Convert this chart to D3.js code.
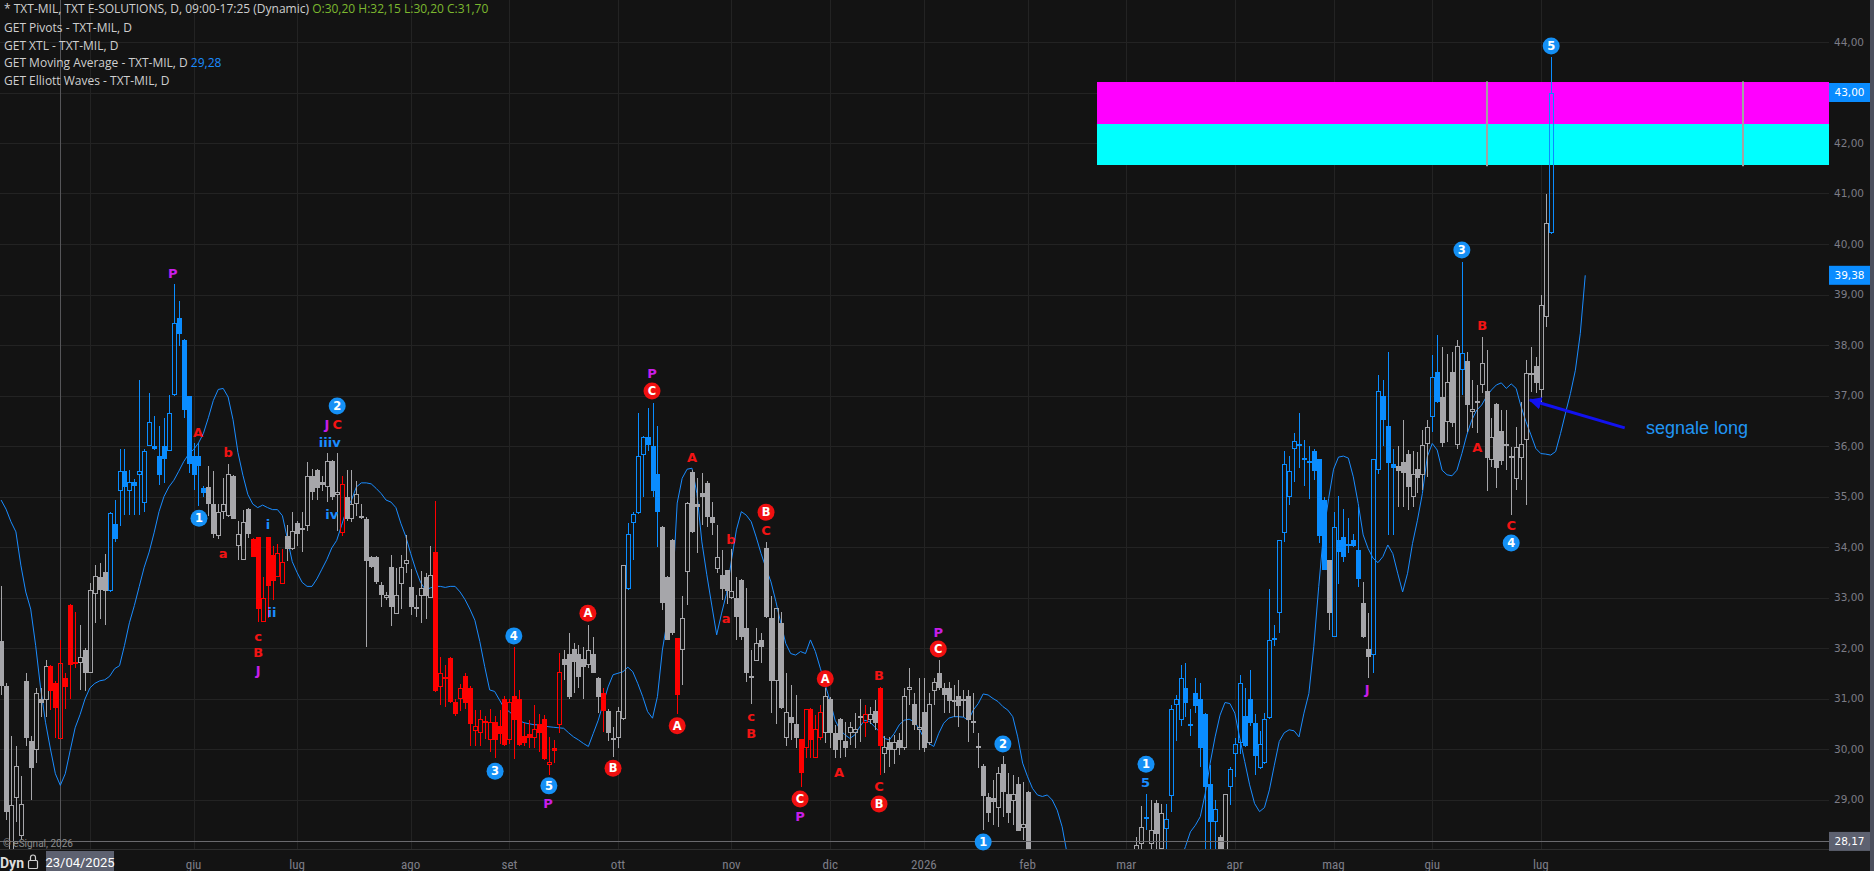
<!DOCTYPE html>
<html><head><meta charset="utf-8">
<script src="https://cdn.jsdelivr.net/npm/d3@7/dist/d3.min.js"></script>
<style>html,body{margin:0;padding:0;background:#131313;overflow:hidden}svg{display:block}</style>
</head><body>
<svg id="chart" width="1874" height="871"></svg>
<script>
// ---------------- DATA (bar 0 = 12 sessions before 23/04/2025) ----------------
const opens = [32.13,31.25,28.00,29.02,28.28,31.35,30.16,29.98,31.00,30.97,31.64,31.31,
30.20,31.40,32.85,31.72,31.70,31.96,31.51,33.07,33.41,33.50,
33.12,34.46,35.10,35.50,35.10,35.29,35.42,34.87,36.00,36.00,
35.80,36.00,35.91,37.01,38.53,38.09,36.99,35.80,35.80,35.16,
35.19,34.85,34.21,34.70,34.61,35.40,34.02,33.75,34.75,34.15,
34.19,32.52,34.19,33.85,33.41,33.26,34.21,33.96,34.47,34.38,
34.41,35.40,35.53,35.29,35.19,35.70,35.02,34.28,34.99,34.56,
34.85,34.62,34.55,33.81,33.81,33.25,33.00,33.60,32.67,33.26,
33.66,33.21,32.81,33.03,33.41,32.99,33.90,31.23,31.42,31.80,
30.93,30.99,31.44,31.21,30.36,30.31,30.56,30.18,30.54,30.46,
31.00,30.18,31.04,31.00,30.26,30.30,30.21,30.50,30.59,29.68,
30.01,30.48,31.79,31.89,31.99,31.89,31.79,31.66,31.89,31.40,
31.10,30.76,30.21,30.21,30.60,33.16,34.47,34.67,35.82,36.18,
36.00,35.45,34.40,33.41,34.14,32.19,31.97,33.51,35.49,34.86,
35.07,35.27,34.59,33.56,33.45,33.54,32.99,33.00,33.35,32.39,
31.40,31.75,32.16,33.99,32.59,31.35,32.49,30.21,30.64,30.49,
30.19,30.01,30.80,29.82,30.21,30.31,31.00,30.31,30.59,30.16,
30.31,30.31,30.61,30.51,30.57,30.76,31.20,29.91,30.14,29.98,
30.18,30.01,31.17,30.90,30.38,30.74,30.11,31.14,31.50,31.20,
31.20,30.98,31.04,31.00,31.04,30.51,30.01,29.66,29.04,29.02,
28.83,29.70,29.11,28.98,29.31,28.43,29.14,27.60,27.25,26.95,
27.10,26.85,26.45,26.70,26.55,26.20,26.45,26.80,26.60,26.35,
26.70,27.05,26.95,27.20,27.45,27.30,27.55,27.40,27.90,28.12,
28.66,28.12,28.94,28.01,28.41,29.07,30.87,30.57,31.20,30.50,
31.10,31.00,30.69,29.31,28.56,28.25,27.90,29.25,29.90,30.11,
30.65,31.00,30.51,29.62,29.72,30.61,32.16,32.70,34.27,35.00,
35.95,36.04,35.77,35.71,35.91,35.74,34.94,33.74,32.21,34.14,
34.19,34.06,34.14,33.94,32.90,31.99,31.86,35.53,36.99,36.40,
35.64,35.60,35.69,35.84,35.00,35.54,35.43,36.04,36.58,37.47,
36.98,36.48,37.47,36.02,37.51,37.69,36.68,36.89,37.21,37.08,
35.72,36.84,36.30,36.03,35.76,35.34,35.76,36.12,37.44,37.58,
37.11,38.55,40.21];
const highs = [33.22,31.30,30.26,30.05,29.46,31.50,30.26,31.20,31.20,31.76,31.66,31.35,
32.15,31.50,32.87,32.72,32.45,32.00,33.28,33.64,33.68,33.87,
34.70,34.93,35.95,35.95,35.53,35.35,37.30,35.95,37.05,36.60,
36.40,36.55,37.01,39.20,38.87,38.12,37.00,36.06,36.06,35.20,
35.61,35.50,34.85,35.37,35.65,35.42,34.51,34.74,34.77,34.17,
34.20,33.40,34.20,34.02,34.06,33.96,34.44,34.70,34.51,34.70,
35.68,35.55,35.55,35.40,35.87,35.72,35.87,35.40,35.53,35.53,
35.31,34.85,34.60,33.83,33.83,33.30,33.10,33.85,33.58,33.85,
34.23,33.56,33.05,33.52,33.49,34.02,34.91,31.82,31.67,31.82,
31.00,31.29,31.50,31.25,30.77,30.77,30.65,30.80,30.66,30.77,
31.05,31.00,32.01,31.17,30.51,30.57,30.87,30.70,30.67,30.24,
30.18,31.90,31.96,32.30,32.09,32.06,32.02,32.45,32.22,31.42,
31.20,30.80,30.44,30.84,33.64,34.47,34.70,36.65,36.20,36.75,
36.85,36.40,34.42,33.43,34.16,32.20,33.02,34.90,35.52,35.36,
35.46,35.30,34.90,34.43,33.95,33.55,33.97,33.41,33.37,33.18,
31.96,32.39,32.29,34.10,33.02,32.80,32.72,31.50,31.27,31.07,
30.20,30.80,30.82,30.67,30.87,31.20,31.02,30.47,30.62,30.54,
30.54,30.71,31.00,30.87,30.84,30.97,31.22,30.26,30.24,30.28,
30.31,31.20,31.60,31.10,31.40,31.40,31.10,31.40,31.76,31.30,
31.33,31.27,31.37,31.17,31.17,31.10,30.31,29.70,29.12,29.38,
29.65,29.86,29.52,29.48,29.45,29.35,29.16,27.85,27.55,27.30,
27.40,27.10,26.90,27.05,26.80,26.60,26.95,27.10,26.90,26.80,
27.20,27.40,27.30,27.60,27.80,27.70,27.90,27.85,28.26,28.87,
29.11,29.00,29.00,28.92,28.92,30.87,31.07,31.66,31.70,30.80,
31.40,31.30,30.71,29.68,29.00,28.30,29.11,29.65,30.21,31.47,
31.20,31.56,30.70,30.35,30.72,33.16,32.46,34.14,35.91,35.80,
36.26,36.65,36.11,36.00,35.95,35.75,35.00,33.75,34.70,35.01,
34.75,34.57,34.26,34.80,33.31,32.69,35.75,37.40,37.31,37.87,
35.95,36.00,36.51,35.92,35.91,35.89,36.32,36.51,37.80,38.20,
37.97,37.83,37.87,38.10,39.65,37.87,37.30,37.20,38.16,37.90,
36.55,36.85,36.71,36.71,35.99,36.38,36.88,37.70,37.97,37.77,
38.99,40.99,43.71];
const lows = [31.06,28.60,27.90,28.56,28.20,30.05,29.00,29.72,30.63,30.64,30.77,30.21,
30.20,30.80,31.00,31.60,31.17,31.15,31.50,32.50,32.58,32.46,
33.10,34.09,34.41,34.64,34.64,34.64,34.64,34.70,36.00,35.93,
35.23,35.27,35.90,37.00,37.99,36.56,35.46,35.12,34.81,35.00,
34.62,34.18,34.15,34.55,34.60,34.55,33.75,33.75,34.17,33.80,
32.52,32.52,32.60,32.96,33.40,33.26,33.72,33.95,34.02,33.90,
34.32,34.93,34.94,35.10,34.89,34.93,34.32,34.21,34.51,34.50,
34.62,34.55,32.01,33.58,33.26,32.81,32.95,32.43,32.67,32.77,
33.49,32.66,32.62,32.50,32.58,32.99,31.12,30.87,30.84,30.91,
30.65,30.76,30.80,30.05,30.05,30.05,30.20,29.95,29.82,30.10,
30.05,30.10,29.81,30.05,30.05,30.01,30.01,29.95,29.78,29.49,
29.72,30.31,31.36,31.00,31.10,31.20,31.00,31.60,31.50,30.71,
30.34,30.15,29.85,30.01,30.58,33.14,33.74,34.66,35.00,35.90,
35.00,34.00,32.75,32.15,32.25,30.70,31.27,32.85,34.28,33.89,
34.43,34.40,34.24,33.48,32.95,32.88,32.98,32.16,32.16,31.33,
30.90,31.74,31.70,32.60,30.71,30.50,30.80,30.05,30.18,30.01,
29.25,29.82,29.82,29.82,30.18,30.11,30.01,29.82,29.82,29.85,
30.08,30.01,30.14,30.24,30.50,30.38,29.48,29.52,29.65,29.71,
29.88,29.98,30.87,30.38,29.98,29.95,30.07,30.87,31.17,30.71,
30.71,30.64,30.44,30.64,30.14,30.31,29.62,28.40,28.56,28.49,
28.46,28.66,28.53,28.49,28.38,28.20,27.40,27.10,26.80,26.60,
26.70,26.30,26.20,26.40,26.00,25.90,26.30,26.40,26.20,26.10,
26.50,26.80,26.70,26.95,27.10,27.05,27.20,27.15,27.60,27.90,
28.40,27.95,27.95,27.90,28.00,28.76,30.15,30.45,30.64,30.26,
30.71,29.65,28.00,27.90,27.90,27.70,27.80,28.89,29.45,29.90,
30.03,30.45,29.49,29.60,29.70,30.60,32.03,32.29,34.09,34.83,
35.29,35.56,35.20,34.95,35.33,34.08,33.54,32.36,32.21,33.27,
33.71,33.88,34.00,33.20,32.20,31.40,31.50,35.45,36.00,34.24,
34.24,34.80,34.80,34.73,34.80,35.06,35.13,35.39,36.28,36.85,
35.99,36.08,36.38,35.95,37.01,36.28,36.35,36.25,37.04,35.10,
35.59,35.16,35.62,35.52,34.63,35.13,35.33,34.83,37.07,37.04,
36.81,38.35,40.20];
const closes = [31.25,28.75,28.90,29.66,28.91,30.21,29.62,31.10,30.92,31.64,31.15,30.82,
31.70,31.22,31.66,31.68,31.83,31.51,33.15,33.43,33.15,33.12,
34.68,34.16,35.50,35.19,35.29,35.20,35.50,35.90,36.48,35.95,
35.42,35.75,36.65,38.43,38.22,36.71,35.65,35.42,35.61,35.06,
34.85,34.26,34.69,34.85,35.44,34.56,34.26,34.49,34.26,33.81,
32.77,32.99,33.22,33.32,33.89,33.70,33.96,34.32,34.26,34.33,
35.40,35.08,35.16,35.23,35.70,35.00,35.08,35.25,34.56,34.85,
35.04,34.58,33.72,33.60,33.31,33.05,33.05,32.81,33.05,33.60,
33.74,32.81,32.77,33.19,33.03,33.45,31.15,31.50,31.38,30.93,
30.70,31.20,30.91,30.50,30.45,30.59,30.51,30.54,30.18,30.30,
30.08,30.94,30.57,30.08,30.11,30.21,30.39,30.31,29.81,29.75,
29.97,31.53,31.66,31.02,31.73,31.43,31.63,31.96,31.51,31.02,
30.76,30.31,30.18,30.76,33.64,34.26,34.66,35.80,36.18,36.02,
35.10,34.70,32.90,32.16,32.29,31.07,32.59,34.88,34.30,34.80,
34.99,34.60,34.47,33.80,33.16,33.12,33.13,32.61,32.21,31.51,
31.45,32.09,32.01,32.61,31.35,32.79,30.82,30.74,30.51,30.21,
29.52,30.80,30.18,30.39,30.74,31.04,30.31,29.98,30.18,30.01,
30.44,30.39,30.65,30.69,30.69,30.51,30.06,30.04,29.98,30.14,
30.01,31.04,31.23,30.48,30.44,30.01,30.90,31.33,31.20,31.07,
30.95,30.94,30.85,30.96,30.57,30.56,30.06,29.06,28.73,28.96,
29.53,29.15,28.73,29.11,28.38,28.52,27.60,27.25,26.95,27.10,
26.85,26.45,26.70,26.55,26.20,26.45,26.80,26.60,26.35,26.70,
27.05,26.95,27.20,27.45,27.30,27.55,27.40,27.70,28.10,28.45,
28.63,28.40,28.32,28.74,28.61,30.80,31.00,31.40,30.92,30.46,
30.85,30.01,29.25,28.56,28.81,28.00,29.11,29.60,30.10,31.30,
30.06,30.51,29.86,30.10,30.59,32.16,32.20,34.14,35.64,35.51,
36.10,36.00,35.72,35.68,35.51,34.21,33.54,32.70,34.39,33.91,
33.81,34.02,34.01,33.36,32.21,31.82,35.74,37.08,36.51,35.66,
35.56,35.51,35.46,35.19,35.44,35.36,36.02,36.38,37.37,36.88,
36.05,37.27,36.45,37.99,37.84,36.81,36.74,36.86,37.64,35.76,
36.18,35.56,35.71,36.00,35.80,35.99,36.03,37.44,37.41,37.25,
38.79,40.42,43.00];
// bar colouring state (g = neutral, b = bullish, r = bearish) as runs
const trendRuns = [["g",10],["r",6],["g",6],["b",20],["g",9],["r",7],["g",11],["r",1],["g",18],["r",26],
["g",8],["r",1],["g",4],["b",7],["g",3],["r",1],["g",24],["r",5],["g",8],["r",1],["g",2],["r",1],
["g",53],["b",1],["g",3],["b",11],["g",2],["b",20],["g",1],["b",6],["g",2],["b",5],["g",7],["b",2],
["g",4],["b",1],["g",17],["b",1]];
// displaced moving average, one value per bar (extends 7 bars past the last candle)
const maValues = [34.93,34.75,34.50,34.30,33.64,33.11,32.77,32.05,31.21,30.53,30.00,29.51,
29.28,29.51,29.97,30.42,30.68,30.99,31.21,31.30,31.35,31.37,
31.44,31.59,31.65,32.05,32.50,32.84,33.22,33.60,33.90,34.28,
34.70,35.00,35.19,35.32,35.50,35.69,35.84,35.93,36.06,36.25,
36.56,36.90,37.12,37.14,36.97,36.52,35.87,35.42,35.04,34.85,
34.78,34.83,34.78,34.74,34.74,34.62,34.17,33.71,33.49,33.30,
33.22,33.22,33.37,33.56,33.75,33.98,34.13,34.43,34.74,34.93,
35.19,35.27,35.27,35.25,35.16,35.06,34.93,34.89,34.78,34.47,
34.21,33.87,33.56,33.30,33.15,33.19,33.22,33.22,33.20,33.22,
33.22,33.11,32.96,32.77,32.55,32.13,31.63,31.17,31.14,30.97,
30.80,30.74,30.64,30.56,30.52,30.50,30.48,30.48,30.46,30.44,
30.43,30.42,30.41,30.32,30.24,30.18,30.11,30.05,30.31,30.57,
30.90,31.23,31.47,31.50,31.53,31.62,31.53,31.30,31.04,30.74,
30.61,31.04,31.96,32.55,33.08,34.87,35.36,35.54,35.56,35.06,
34.10,33.45,32.85,32.26,32.69,33.08,33.74,34.34,34.70,34.63,
34.50,34.20,33.87,33.58,33.31,32.92,32.49,32.09,31.89,31.86,
31.93,31.89,32.16,31.93,31.60,31.27,30.94,30.57,30.38,30.28,
30.21,30.28,30.44,30.57,30.54,30.44,30.34,30.21,30.18,30.31,
30.48,30.57,30.59,30.54,30.41,30.21,30.11,30.05,30.31,30.51,
30.61,30.64,30.64,30.63,30.57,30.77,30.90,31.09,31.07,31.00,
30.94,30.84,30.77,30.64,30.24,29.72,29.45,29.22,29.09,29.06,
29.09,28.99,28.79,28.46,27.93,27.60,27.30,27.00,26.80,26.60,
26.50,26.40,26.30,26.20,26.20,26.10,26.10,26.10,26.20,26.30,
26.40,26.50,26.60,26.80,27.00,27.30,27.55,27.80,28.07,28.36,
28.49,28.66,29.12,29.72,30.24,30.67,30.92,30.90,30.71,30.21,
29.75,29.29,28.92,28.76,28.84,29.19,29.68,30.15,30.32,30.38,
30.36,30.24,30.71,31.10,32.03,33.22,34.30,34.96,35.54,35.78,
35.80,35.76,35.39,34.86,34.24,33.97,33.78,33.69,33.81,34.04,
33.87,33.48,33.11,33.48,34.07,34.53,35.06,35.79,36.05,35.92,
35.52,35.43,35.41,35.52,35.85,36.22,36.51,36.71,36.81,36.98,
37.11,37.21,37.25,37.14,37.23,37.14,36.78,36.48,36.22,35.95,
35.85,35.84,35.82,35.89,36.25,36.65,37.04,37.50,38.23,39.38];

const priceTicks = [29,30,31,32,33,34,35,36,37,38,39,40,41,42,43,44];
const monthLabels = ["", "giu","lug","ago","set","ott","nov","dic","2026","feb","mar","apr","mag","giu","lug"];
const monthBars   = [18, 39, 60, 83, 103, 125, 148, 168, 187, 208, 228, 250, 270, 290, 312];

// GET Pivots zones
const pivotZones = [{from:222, top:43.20, bottom:42.38, color:"#ff00ff"},
                    {from:222, top:42.38, bottom:41.56, color:"#00ffff"}];
const pivotMarkerBars = [301, 353];

// Elliott wave labels: bar, price, text, kind (cb/cr = circle blue/red, tr/tm/tb = text red/magenta/blue)
const waveLabels = [
 {b:34.8,p:39.41,t:"P",k:"tm"},{b:39.9,p:36.28,t:"A",k:"tr"},{b:46.0,p:35.88,t:"b",k:"tr"},
 {b:40.1,p:34.57,t:"1",k:"cb"},{b:45.0,p:33.88,t:"a",k:"tr"},{b:54.1,p:34.44,t:"i",k:"tb"},
 {b:54.9,p:32.71,t:"ii",k:"tb"},{b:52.1,p:32.24,t:"c",k:"tr"},{b:52.1,p:31.91,t:"B",k:"tr"},
 {b:52.1,p:31.56,t:"J",k:"tm"},{b:68.1,p:36.79,t:"2",k:"cb"},{b:66.0,p:36.43,t:"J",k:"tm"},
 {b:68.1,p:36.43,t:"C",k:"tr"},{b:66.6,p:36.08,t:"iiiv",k:"tb"},{b:67.0,p:34.65,t:"iv",k:"tb"},
 {b:131.9,p:37.43,t:"P",k:"tm"},{b:131.9,p:37.09,t:"C",k:"cr"},{b:140.0,p:35.78,t:"A",k:"tr"},
 {b:155.0,p:34.69,t:"B",k:"cr"},{b:155.0,p:34.34,t:"C",k:"tr"},{b:147.9,p:34.16,t:"b",k:"tr"},
 {b:146.9,p:32.59,t:"a",k:"tr"},{b:118.9,p:32.69,t:"A",k:"cr"},{b:103.9,p:32.24,t:"4",k:"cb"},
 {b:100.1,p:29.56,t:"3",k:"cb"},{b:111.0,p:29.27,t:"5",k:"cb"},{b:110.8,p:28.93,t:"P",k:"tm"},
 {b:124.0,p:29.62,t:"B",k:"cr"},{b:137.0,p:30.46,t:"A",k:"cr"},{b:152.0,p:30.65,t:"c",k:"tr"},
 {b:152.0,p:30.32,t:"B",k:"tr"},{b:167.0,p:31.39,t:"A",k:"cr"},{b:177.9,p:31.45,t:"B",k:"tr"},
 {b:189.9,p:32.32,t:"P",k:"tm"},{b:189.9,p:31.98,t:"C",k:"cr"},{b:161.9,p:29.01,t:"C",k:"cr"},
 {b:161.9,p:28.67,t:"P",k:"tm"},{b:169.8,p:29.54,t:"A",k:"tr"},{b:177.9,p:29.27,t:"C",k:"tr"},
 {b:177.9,p:28.91,t:"B",k:"cr"},{b:203.0,p:30.10,t:"2",k:"cb"},{b:199.0,p:28.16,t:"1",k:"cb"},
 {b:232.0,p:29.70,t:"1",k:"cb"},{b:231.9,p:29.35,t:"5",k:"tb"},{b:276.8,p:31.19,t:"J",k:"tm"},
 {b:296.0,p:39.88,t:"3",k:"cb"},{b:300.1,p:38.38,t:"B",k:"tr"},{b:299.1,p:35.98,t:"A",k:"tr"},
 {b:306.0,p:34.42,t:"C",k:"tr"},{b:306.0,p:34.08,t:"4",k:"cb"},{b:314.1,p:43.92,t:"5",k:"cb"}
];
const signalArrow = {fromBar:329.0, fromPrice:36.36, toBar:309.8, toPrice:36.91, text:"segnale long", textBar:333.3};
const crosshairBar = 12, crosshairPrice = 28.17;

// ---------------- RENDER ----------------
const W = 1874, H = 871, plotRight = 1829, plotBottom = 849;
const svg = d3.select("#chart");
const x = d3.scaleLinear().domain([0, 300]).range([1.1, 1.1 + 4.935 * 300]);
const y = d3.scaleLinear().domain([29, 44]).range([799.5, 42]);
const loc = d3.formatLocale({decimal: ",", thousands: ".", grouping: [3], currency: ["", ""]});
const f2 = loc.format(".2f");

const trend = [];
trendRuns.forEach(([c, n]) => { for (let k = 0; k < n; k++) trend.push(c); });
const colorOf = {b: "#0a8cff", r: "#ff0000", g: "#a6a6aa"};

svg.append("rect").attr("width", W).attr("height", H).attr("fill", "#131313");
const defs = svg.append("defs");
defs.append("clipPath").attr("id", "plotclip").append("rect")
  .attr("x", 0).attr("y", 0).attr("width", plotRight).attr("height", plotBottom);
defs.append("marker").attr("id", "ah").attr("viewBox", "0 0 10 10").attr("refX", 9).attr("refY", 5)
  .attr("markerWidth", 4.2).attr("markerHeight", 4.2).attr("orient", "auto")
  .append("path").attr("d", "M0,0 L10,5 L0,10 z").attr("fill", "#1212f0");

// grid
const grid = svg.append("g").attr("shape-rendering", "crispEdges");
grid.selectAll("line.h").data(priceTicks).join("line")
  .attr("x1", 0).attr("x2", plotRight)
  .attr("y1", d => Math.round(y(d)) + 0.5).attr("y2", d => Math.round(y(d)) + 0.5)
  .attr("stroke", "#232323");
grid.selectAll("line.v").data(monthBars).join("line")
  .attr("x1", d => Math.round(x(d)) + 0.5).attr("x2", d => Math.round(x(d)) + 0.5)
  .attr("y1", 0).attr("y2", plotBottom).attr("stroke", "#232323");
grid.append("line").attr("x1", 0).attr("x2", plotRight).attr("y1", plotBottom + 0.5).attr("y2", plotBottom + 0.5)
  .attr("stroke", "#2e2e2e");

const plot = svg.append("g").attr("clip-path", "url(#plotclip)");

// crosshair vertical
plot.append("line").attr("x1", Math.round(x(crosshairBar)) + 0.5).attr("x2", Math.round(x(crosshairBar)) + 0.5)
  .attr("y1", 0).attr("y2", plotBottom).attr("stroke", "#555558").attr("shape-rendering", "crispEdges");

// pivot zones
plot.selectAll("rect.pz").data(pivotZones).join("rect")
  .attr("x", d => x(d.from)).attr("y", d => y(d.top))
  .attr("width", d => plotRight - x(d.from)).attr("height", d => y(d.bottom) - y(d.top))
  .attr("fill", d => d.color).attr("shape-rendering", "crispEdges");
plot.selectAll("rect.pm").data(pivotMarkerBars).join("rect")
  .attr("x", d => Math.round(x(d)) - 1).attr("y", y(pivotZones[0].top) - 1)
  .attr("width", 2).attr("height", y(pivotZones[1].bottom) - y(pivotZones[0].top) + 2)
  .attr("fill", "#a2a2a2");

// moving average
plot.append("path").datum(maValues)
  .attr("d", d3.line().x((d, i) => x(i)).y(d => y(d)))
  .attr("fill", "none").attr("stroke", "#1a8cff").attr("stroke-width", 1);

// candles
const n = Math.min(opens.length, highs.length, lows.length, closes.length);
const bars = d3.range(n).map(i => ({i, o: opens[i], h: highs[i], l: lows[i], c: closes[i], t: trend[i] || "g"}));
const cg = plot.append("g").attr("shape-rendering", "crispEdges");
cg.selectAll("g").data(bars).join("g").each(function (d) {
  const g = d3.select(this);
  const col = colorOf[d.t];
  const cx = Math.round(x(d.i));
  const yt = Math.round(y(Math.max(d.o, d.c)));
  const yb = Math.round(y(Math.min(d.o, d.c)));
  const yh = Math.round(y(d.h)), yl = Math.round(y(d.l));
  if (d.c > d.o) {
    g.append("line").attr("x1", cx + 0.5).attr("x2", cx + 0.5).attr("y1", yh).attr("y2", yt).attr("stroke", col);
    g.append("line").attr("x1", cx + 0.5).attr("x2", cx + 0.5).attr("y1", yb).attr("y2", yl).attr("stroke", col);
    g.append("rect").attr("x", cx - 1.5).attr("y", yt + 0.5).attr("width", 4)
      .attr("height", Math.max(yb - yt - 1, 0.01)).attr("fill", "none").attr("stroke", col);
  } else {
    g.append("line").attr("x1", cx + 0.5).attr("x2", cx + 0.5).attr("y1", yh).attr("y2", yl).attr("stroke", col);
    g.append("rect").attr("x", cx - 2).attr("y", yt).attr("width", 5)
      .attr("height", Math.max(yb - yt, 2)).attr("fill", col);
  }
});

// crosshair horizontal (drawn above candles)
plot.append("line").attr("x1", 0).attr("x2", plotRight)
  .attr("y1", Math.round(y(crosshairPrice)) + 0.5).attr("y2", Math.round(y(crosshairPrice)) + 0.5)
  .attr("stroke", "#6a6a6e").attr("shape-rendering", "crispEdges");

// wave labels
const textCol = {tr: "#f21414", tm: "#c81ee8", tb: "#1a8cff"};
const wl = svg.append("g");
waveLabels.forEach(d => {
  const px = x(d.b), py = y(d.p);
  if (d.k === "cb" || d.k === "cr") {
    wl.append("circle").attr("cx", px).attr("cy", py).attr("r", 8.5)
      .attr("fill", d.k === "cb" ? "#1590f5" : "#f01010");
    wl.append("text").attr("x", px).attr("y", py).attr("dy", "0.36em").attr("text-anchor", "middle")
      .attr("font-family", "DejaVu Sans, sans-serif").attr("font-weight", "bold").attr("font-size", 11.5)
      .attr("fill", "#ffffff").text(d.t);
  } else {
    wl.append("text").attr("x", px).attr("y", py).attr("dy", "0.36em").attr("text-anchor", "middle")
      .attr("font-family", "DejaVu Sans, sans-serif").attr("font-weight", "bold").attr("font-size", 13)
      .attr("fill", textCol[d.k]).text(d.t);
  }
});

// signal arrow + text
svg.append("line")
  .attr("x1", x(signalArrow.fromBar)).attr("y1", y(signalArrow.fromPrice))
  .attr("x2", x(signalArrow.toBar)).attr("y2", y(signalArrow.toPrice))
  .attr("stroke", "#1212f0").attr("stroke-width", 3).attr("marker-end", "url(#ah)");
svg.append("text").attr("x", x(signalArrow.textBar)).attr("y", y(signalArrow.fromPrice)).attr("dy", "0.36em")
  .attr("font-family", "Liberation Sans, Arial, sans-serif").attr("font-size", 18)
  .attr("fill", "#2196f3").text(signalArrow.text);

// right price axis
const ax = svg.append("g");
ax.selectAll("text").data(priceTicks).join("text")
  .attr("x", 1849).attr("y", d => y(d)).attr("dy", "0.36em").attr("text-anchor", "middle")
  .attr("font-family", "DejaVu Sans, sans-serif").attr("font-size", 10.5).attr("fill", "#7c7c86")
  .text(d => f2(d));
const priceBoxes = [
  {v: closes[n - 1], fill: "#0a8cff"},
  {v: maValues[maValues.length - 1], fill: "#0a8cff"},
  {v: crosshairPrice, fill: "#5d6170"}
];
priceBoxes.forEach(b => {
  const cy = y(b.v);
  ax.append("rect").attr("x", 1829).attr("y", cy - 9.5).attr("width", 41).attr("height", 19).attr("fill", b.fill);
  ax.append("text").attr("x", 1849.5).attr("y", cy).attr("dy", "0.36em").attr("text-anchor", "middle")
    .attr("font-family", "DejaVu Sans, sans-serif").attr("font-size", 10.5).attr("fill", "#ffffff").text(f2(b.v));
});
svg.append("rect").attr("x", 1870).attr("y", 0).attr("width", 4).attr("height", H).attr("fill", "#4c4f5c");

// bottom time axis
const bx = svg.append("g");
bx.selectAll("text").data(monthBars).join("text")
  .attr("x", d => x(d)).attr("y", 864).attr("dy", "0.36em").attr("text-anchor", "middle")
  .attr("font-family", "Liberation Sans Narrow, Roboto Condensed, Roboto, sans-serif").attr("font-size", 13)
  .attr("fill", "#7e7e88").text((d, i) => monthLabels[i]);
svg.append("text").attr("x", 3).attr("y", 843).attr("dy", "0.36em")
  .attr("font-family", "Liberation Sans Narrow, Roboto, sans-serif").attr("font-size", 10).attr("fill", "#8a8a8a")
  .text("© eSignal, 2026");
svg.append("text").attr("x", 0).attr("y", 863).attr("dy", "0.36em")
  .attr("font-family", "Liberation Sans Narrow, Roboto, sans-serif").attr("font-size", 14).attr("font-weight", "bold")
  .attr("fill", "#dddddd").text("Dyn");
const lk = svg.append("g").attr("fill", "none").attr("stroke", "#cfcfcf").attr("stroke-width", 1.2);
lk.append("rect").attr("x", 28.5).attr("y", 860.5).attr("width", 9).attr("height", 8).attr("rx", 1);
lk.append("path").attr("d", "M30.5,860.5 V857.5 A2.5,2.5 0 0 1 35.5,857.5 V860.5");
svg.append("rect").attr("x", 46).attr("y", 851).attr("width", 68).attr("height", 20).attr("fill", "#5d6170");
svg.append("text").attr("x", 80).attr("y", 862).attr("dy", "0.36em").attr("text-anchor", "middle")
  .attr("font-family", "Liberation Sans Narrow, Roboto, sans-serif").attr("font-size", 13).attr("fill", "#ffffff")
  .text("23/04/2025");

// legend
const lg = svg.append("g").attr("font-family", "Open Sans, sans-serif").attr("font-size", 12).attr("fill", "#cfcfcf");
const cb = bars[crosshairBar];
const t1 = lg.append("text").attr("x", 4).attr("y", 9).attr("dy", "0.36em");
t1.append("tspan").text("* TXT-MIL, TXT E-SOLUTIONS, D, 09:00-17:25 (Dynamic) ");
t1.append("tspan").attr("fill", "#7cb82f")
  .text(`O:${f2(cb.o)} H:${f2(cb.h)} L:${f2(cb.l)} C:${f2(cb.c)}`);
const legendRows = ["GET Pivots - TXT-MIL, D", "GET XTL - TXT-MIL, D", "GET Moving Average - TXT-MIL, D", "GET Elliott Waves - TXT-MIL, D"];
const legendY = [28, 45.5, 63, 81];
legendRows.forEach((r, k) => {
  const t = lg.append("text").attr("x", 4).attr("y", legendY[k]).attr("dy", "0.36em");
  t.append("tspan").text(r);
  if (k === 2) t.append("tspan").attr("fill", "#1a8cff").text(" " + f2(maValues[crosshairBar]));
});
</script>
</body></html>
